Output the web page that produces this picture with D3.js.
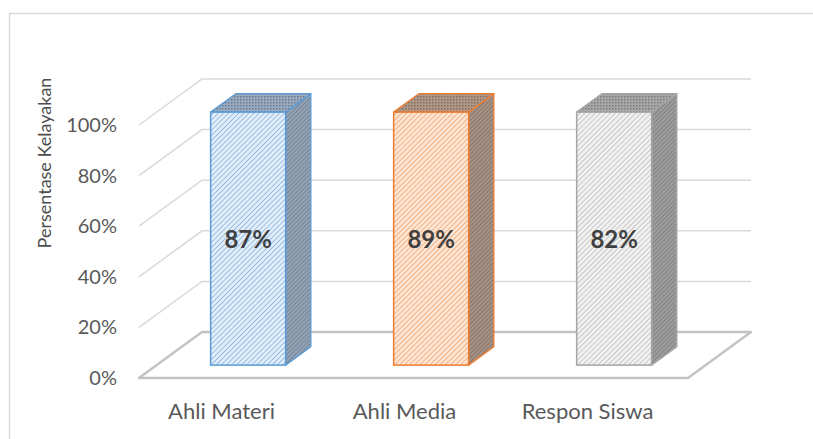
<!DOCTYPE html>
<html>
<head>
<meta charset="utf-8">
<script src="https://cdn.jsdelivr.net/npm/d3@7"></script>
<style>
  html, body { margin: 0; padding: 0; background: #ffffff; }
  svg { display: block; }
</style>
</head>
<body>
<svg id="chart" width="813" height="439"></svg>
<script>
// ---- data ----
const categories = ["Ahli Materi", "Ahli Media", "Respon Siswa"];
const plottedValues = [1.0, 1.0, 1.0];          // bar heights as drawn (fraction)
const dataLabels = ["87%", "89%", "82%"];       // label text shown on bars
const yTicks = [0, 0.2, 0.4, 0.6, 0.8, 1.0];
const yTickLabels = ["0%", "20%", "40%", "60%", "80%", "100%"];
const yTitle = "Persentase Kelayakan";

// ---- styles ----
const palettes = [
  { edge: "#5b9bd5", frontBg: "#e3eef9", frontFg: "#7eb0e0", sideBg: "#93a2b4", sideFg: "#647589", topBg: "#9aabc0", topFg: "#687a90" },
  { edge: "#ed7d31", frontBg: "#fde6d6", frontFg: "#f3a06a", sideBg: "#a69284", sideFg: "#786558", topBg: "#b09888", topFg: "#826c5c" },
  { edge: "#a5a5a5", frontBg: "#f1f1f1", frontFg: "#bdbdbd", sideBg: "#9d9d9d", sideFg: "#727272", topBg: "#a8a8a8", topFg: "#7a7a7a" }
];
const FONT = "Lato, 'Open Sans', sans-serif";

const svg = d3.select("#chart");
const W = 813, H = 439;

// chart area border
svg.append("rect")
  .attr("x", 9.5).attr("y", 13.5)
  .attr("width", W + 10).attr("height", H + 10)
  .attr("fill", "#ffffff").attr("stroke", "#d9d9d9").attr("stroke-width", 1.5);

// geometry (oblique projection)
const depthX = 63, depthY = -46;
const barD0 = 0.28, barD1 = 0.68;
const barWidth = 75;

const x = d3.scaleBand().domain(categories).range([139, 688]);
const y = d3.scaleLinear().domain([0, 1]).range([378, 125]);

// patterns
const defs = svg.append("defs");
function stripePattern(id, bg, fg, size, sw) {
  const p = defs.append("pattern")
    .attr("id", id).attr("patternUnits", "userSpaceOnUse")
    .attr("width", size).attr("height", size)
    .attr("patternTransform", "rotate(45)");
  p.append("rect").attr("width", size).attr("height", size).attr("fill", bg);
  p.append("line").attr("x1", 0).attr("y1", 0).attr("x2", 0).attr("y2", size)
    .attr("stroke", fg).attr("stroke-width", sw);
}
function dotPattern(id, bg, fg) {
  const p = defs.append("pattern")
    .attr("id", id).attr("patternUnits", "userSpaceOnUse")
    .attr("width", 3).attr("height", 3);
  p.append("rect").attr("width", 3).attr("height", 3).attr("fill", bg);
  p.append("rect").attr("width", 1.5).attr("height", 1.5).attr("fill", fg);
}
palettes.forEach((pal, i) => {
  stripePattern("front" + i, pal.frontBg, pal.frontFg, 3.6, 1.5);
  stripePattern("side" + i, pal.sideBg, pal.sideFg, 3, 1.2);
  dotPattern("top" + i, pal.topBg, pal.topFg);
});

// gridlines: side wall diagonals + back wall horizontals
const gridG = svg.append("g");
const x0 = x.range()[0], x1 = x.range()[1];
yTicks.filter(t => t > 0).forEach(t => {
  const yy = y(t);
  gridG.append("path")
    .attr("d", `M${x0},${yy} L${x0 + depthX},${yy + depthY} L${x1 + depthX},${yy + depthY}`)
    .attr("fill", "none").attr("stroke", "#d9d9d9").attr("stroke-width", 1.5);
});

// floor
const yf = y(0);
svg.append("path")
  .attr("d", `M${x0},${yf} L${x1},${yf} L${x1 + depthX},${yf + depthY} L${x0 + depthX},${yf + depthY} Z`)
  .attr("fill", "#ffffff").attr("stroke", "#c3c3c3").attr("stroke-width", 2.5)
  .attr("stroke-linejoin", "round");

// bars
const barsG = svg.append("g");
categories.forEach((c, i) => {
  const pal = palettes[i];
  const v = plottedValues[i];
  const cx = x(c) + x.bandwidth() / 2;
  const fx = cx - barWidth / 2 + barD0 * depthX;     // front-left x
  const fyBot = y(0) + barD0 * depthY;
  const fyTop = y(v) + barD0 * depthY;
  const dx = (barD1 - barD0) * depthX, dy = (barD1 - barD0) * depthY;
  const g = barsG.append("g");
  // side
  g.append("path")
    .attr("d", `M${fx + barWidth},${fyTop} L${fx + barWidth + dx},${fyTop + dy} L${fx + barWidth + dx},${fyBot + dy} L${fx + barWidth},${fyBot} Z`)
    .attr("fill", `url(#side${i})`).attr("stroke", pal.edge).attr("stroke-width", 1.3).attr("stroke-linejoin", "round");
  // top
  g.append("path")
    .attr("d", `M${fx},${fyTop} L${fx + dx},${fyTop + dy} L${fx + barWidth + dx},${fyTop + dy} L${fx + barWidth},${fyTop} Z`)
    .attr("fill", `url(#top${i})`).attr("stroke", pal.edge).attr("stroke-width", 1.3).attr("stroke-linejoin", "round");
  // front
  g.append("rect")
    .attr("x", fx).attr("y", fyTop)
    .attr("width", barWidth).attr("height", fyBot - fyTop)
    .attr("fill", `url(#front${i})`).attr("stroke", pal.edge).attr("stroke-width", 1.5);
  // data label
  g.append("text")
    .attr("x", fx + barWidth / 2).attr("y", (fyTop + fyBot) / 2 + 9)
    .attr("text-anchor", "middle")
    .attr("font-family", FONT)
    .attr("font-weight", "bold").attr("font-size", 24)
    .attr("fill", "#404040")
    .text(dataLabels[i]);
});

// y tick labels
const tickG = svg.append("g");
yTicks.forEach((t, i) => {
  tickG.append("text")
    .attr("x", 117).attr("y", y(t) + 7)
    .attr("text-anchor", "end")
    .attr("font-family", FONT)
    .attr("font-size", 20)
    .attr("fill", "#595959")
    .text(yTickLabels[i]);
});

// category labels
categories.forEach(c => {
  svg.append("text")
    .attr("x", x(c) + x.bandwidth() / 2 - 9).attr("y", 419)
    .attr("text-anchor", "middle")
    .attr("font-family", FONT)
    .attr("font-size", 22)
    .attr("fill", "#595959")
    .text(c);
});

// y axis title
svg.append("text")
  .attr("transform", "translate(51,163) rotate(-90)")
  .attr("text-anchor", "middle")
  .attr("font-family", FONT)
  .attr("font-size", 18)
  .attr("fill", "#4d4d4d")
  .text(yTitle);
</script>
</body>
</html>
